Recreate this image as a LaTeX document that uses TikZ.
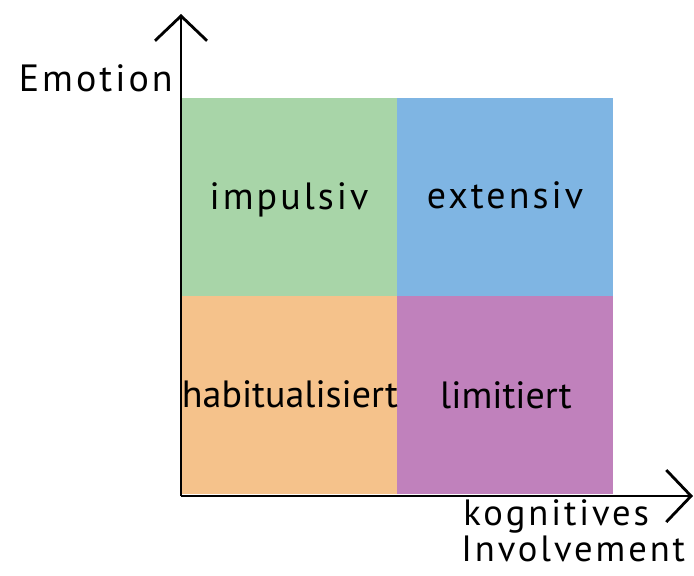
\documentclass[tikz,border=0pt]{standalone}
\usepackage{fontspec}
\setmainfont{PT Sans}
\newfontfamily\widefont[LetterSpace=8]{PT Sans}
\usepackage{xcolor}
\usetikzlibrary{arrows.meta,positioning}

\definecolor{quadgreen}{HTML}{A8D5A8}
\definecolor{quadblue}{HTML}{7FB5E3}
\definecolor{quadorange}{HTML}{F5C28B}
\definecolor{quadpurple}{HTML}{C081BC}

\tikzset{
  quad/.style={minimum width=5.4cm,minimum height=4.95cm,inner sep=0pt,anchor=north west},
  qlabel/.style={font=\fontsize{27}{30}\selectfont,anchor=base,inner sep=0pt},
  wlabel/.style={qlabel,font=\fontsize{27}{30}\selectfont\widefont},
  xlabel/.style={qlabel,anchor=base west,font=\fontsize{26}{30}\selectfont\widefont},
  axis/.style={line width=2pt,-{Straight Barb[length=0.62cm,width=1.3cm,line width=2pt]}}
}

\begin{document}
\begin{tikzpicture}[x=0.025cm,y=-0.025cm]
\useasboundingbox (0,0) rectangle (694,575);
% quadrants
\node[quad,fill=quadgreen] (imp) at (181,98) {};
\node[quad,fill=quadblue] (ext) at (397,98) {};
\node[quad,fill=quadorange] (hab) at (181,296) {};
\node[quad,fill=quadpurple] (lim) at (397,296) {};
\node[wlabel] (impl) at (289,209) {impulsiv};
\node[wlabel] (extl) at (505,208) {extensiv};
\node[qlabel] (habl) at (290,407) {habitualisiert};
\node[qlabel] (liml) at (506,408) {limitiert};
% axes
\coordinate (origin) at (181,496);
\coordinate (ytip) at (181,14);
\coordinate (xtip) at (693,496);
\draw[axis] (origin)--(ytip);
\draw[axis] (origin)--(xtip);
\node[wlabel,anchor=base east] (emo) at (173,91) {Emotion};
\node[xlabel] (kog) at (463,525) {kognitives};
\node[xlabel] (inv) at (461,561) {Involvement};
\end{tikzpicture}
\end{document}
